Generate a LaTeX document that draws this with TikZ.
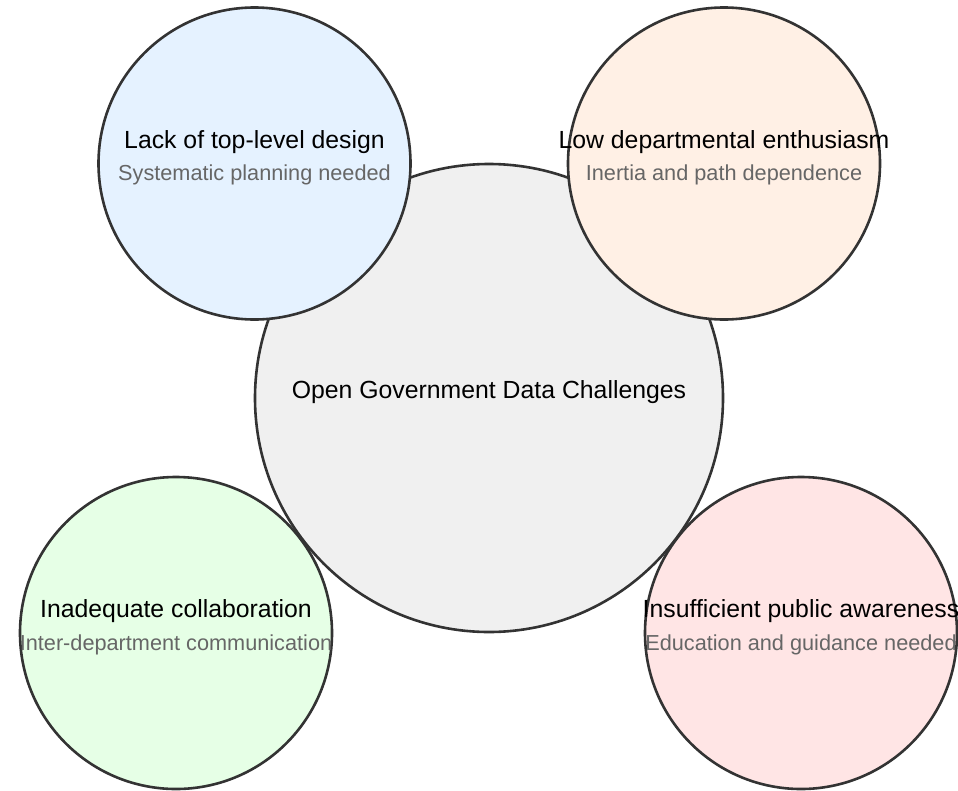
\documentclass[tikz,border=0pt]{standalone}
\usepackage{fontspec}
\setmainfont{Liberation Sans}
\definecolor{gray1}{HTML}{F0F0F0}
\definecolor{blue1}{HTML}{E5F2FF}
\definecolor{orange1}{HTML}{FFF0E5}
\definecolor{green1}{HTML}{E6FFE6}
\definecolor{red1}{HTML}{FFE5E5}
\definecolor{line1}{HTML}{333333}
\definecolor{text1}{HTML}{666666}

\begin{document}
\begin{tikzpicture}[x=1pt,y=-1pt,
  bubble/.style={circle,draw=line1,line width=2.6pt,inner sep=0pt},
  title/.style={anchor=base,font=\fontsize{24.8}{30}\selectfont},
  note/.style={anchor=base,text=text1,font=\fontsize{21.7}{26}\selectfont}]
\useasboundingbox (0,0) rectangle (958,790);
\node [bubble,fill=green1,minimum size=312pt] (collab) at (176,633) {};
\node [bubble,fill=red1,minimum size=312pt] (public) at (801,633) {};
\node [bubble,fill=gray1,minimum size=468pt] (core) at (489,398) {};
\node [bubble,fill=blue1,minimum size=312pt] (design) at (254.5,163.5) {};
\node [bubble,fill=orange1,minimum size=312pt] (dept) at (724,163.5) {};
\node [title] (core-t) at (core.center) {Open Government Data Challenges};
\node [title] (design-t) at ([yshift=15pt]design.center) {Lack of top-level design};
\node [note] (design-n) at ([yshift=-17pt]design.center) {Systematic planning needed};
\node [title] (dept-t) at ([yshift=15pt]dept.center) {Low departmental enthusiasm};
\node [note] (dept-n) at ([yshift=-17pt]dept.center) {Inertia and path dependence};
\node [title] (collab-t) at ([yshift=16pt]collab.center) {Inadequate collaboration};
\node [note] (collab-n) at ([yshift=-17pt]collab.center) {Inter-department communication};
\node [title] (public-t) at ([yshift=16pt]public.center) {Insufficient public awareness};
\node [note] (public-n) at ([yshift=-17pt]public.center) {Education and guidance needed};
\end{tikzpicture}
\end{document}
